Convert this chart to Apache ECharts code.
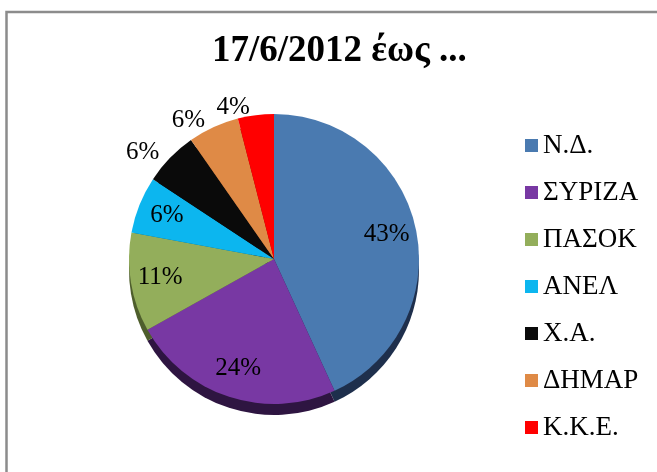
<!DOCTYPE html>
<html>
<head>
<meta charset="utf-8">
<script src="https://cdn.jsdelivr.net/npm/echarts@6/dist/echarts.min.js"></script>
<style>
html,body{margin:0;padding:0;background:#fff;}
#chart{width:657px;height:472px;}
</style>
</head>
<body>
<div id="chart"></div>
<script>
// ---- data ----
const titleText = '17/6/2012 έως ...';
const categories = ['Ν.Δ.', 'ΣΥΡΙΖΑ', 'ΠΑΣΟΚ', 'ΑΝΕΛ', 'Χ.Α.', 'ΔΗΜΑΡ', 'Κ.Κ.Ε.'];
const seats = [129, 71, 33, 19, 18, 17, 12];

// ---- styling ----
const topColors = ['#4A7AB0', '#7838A3', '#93AE5B', '#0CB6EF', '#0A0A0A', '#DF8A46', '#FF0000'];
const sideColors = ['#1E2F4C', '#2E1541', '#4E5E2C', '#05607F', '#000000', '#7A4620', '#8A0000'];
const outsideLabelNames = ['Χ.Α.', 'ΔΗΜΑΡ', 'Κ.Κ.Ε.'];

const CX = 274, CY = 259, R = 145, DEPTH = 11;
const serif = '"Liberation Serif", "Times New Roman", serif';
const pctFmt = p => Math.round(p.percent) + '%';

const chart = echarts.init(document.getElementById('chart'), null, {renderer: 'canvas'});

const option = {
  animation: false,
  backgroundColor: '#ffffff',
  title: {
    text: titleText,
    left: 207,
    top: 28,
    textStyle: {fontFamily: serif, fontWeight: 'bold', fontSize: 37, color: '#000'}
  },
  legend: {
    orient: 'vertical',
    left: 520,
    top: 127,
    icon: 'rect',
    itemWidth: 13,
    itemHeight: 13,
    itemGap: 20,
    selectedMode: false,
    data: categories,
    textStyle: {fontFamily: serif, fontSize: 27, color: '#000', lineHeight: 25}
  },
  graphic: [{
    type: 'rect',
    shape: {x: 6.5, y: 12, width: 700, height: 500},
    style: {fill: 'none', stroke: '#8c8c8c', lineWidth: 2.5},
    silent: true
  }],
  series: [
    {
      type: 'pie',
      name: 'top',
      z: 3,
      center: [CX, CY],
      radius: R,
      startAngle: 90,
      clockwise: true,
      avoidLabelOverlap: false,
      silent: true,
      itemStyle: {borderWidth: 0},
      label: {
        position: 'outside',
        formatter: pctFmt,
        fontFamily: serif,
        fontSize: 25,
        color: '#000'
      },
      labelLine: {show: false, length: 8, length2: 0},
      data: categories.map((n, i) => ({
        name: n, value: seats[i],
        itemStyle: {color: topColors[i]},
        label: {show: outsideLabelNames.includes(n)}
      }))
    },
    {
      type: 'pie',
      name: 'side',
      z: 1,
      center: [CX, CY + DEPTH],
      radius: R,
      startAngle: 90,
      clockwise: true,
      silent: true,
      label: {show: false},
      labelLine: {show: false},
      itemStyle: {borderWidth: 0},
      data: categories.map((n, i) => ({
        name: n, value: seats[i],
        itemStyle: {color: sideColors[i]}
      }))
    },
    {
      type: 'pie',
      name: 'labels',
      z: 4,
      center: [CX, CY],
      radius: R * 1.55,
      startAngle: 90,
      clockwise: true,
      silent: true,
      itemStyle: {color: 'rgba(0,0,0,0)', borderWidth: 0},
      label: {
        position: 'inside',
        formatter: pctFmt,
        fontFamily: serif,
        fontSize: 25,
        color: '#000'
      },
      labelLine: {show: false},
      data: categories.map((n, i) => ({
        name: n, value: seats[i],
        label: {show: !outsideLabelNames.includes(n)}
      }))
    }
  ]
};
chart.setOption(option);
</script>
</body>
</html>
